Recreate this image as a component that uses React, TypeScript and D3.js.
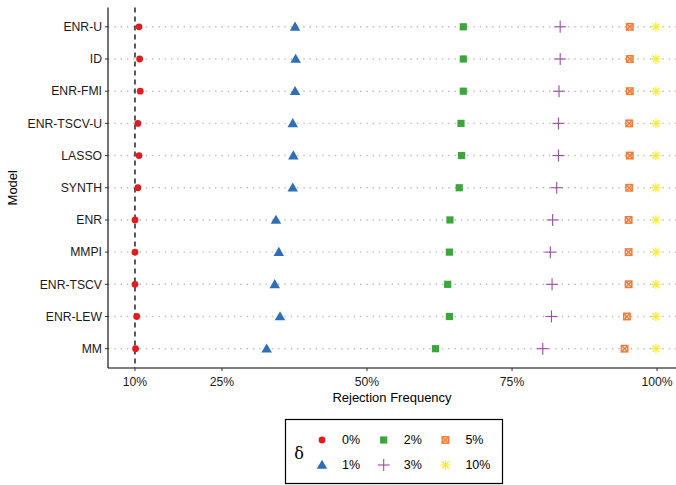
import React from "react";
import * as d3 from "d3";

// rejection frequency (%) per model, one array per delta level
const models = ["ENR-U", "ID", "ENR-FMI", "ENR-TSCV-U", "LASSO", "SYNTH", "ENR", "MMPI", "ENR-TSCV", "ENR-LEW", "MM"];
const deltas = ["0%", "1%", "2%", "3%", "5%", "10%"];
const d0 = [10.7, 10.8, 10.9, 10.5, 10.7, 10.5, 10.0, 10.0, 10.0, 10.3, 10.1];
const d1 = [37.6, 37.7, 37.6, 37.2, 37.3, 37.2, 34.3, 34.8, 34.1, 35.0, 32.7];
const d2 = [66.6, 66.6, 66.6, 66.2, 66.3, 65.9, 64.3, 64.2, 63.9, 64.2, 61.8];
const d3v = [83.3, 83.3, 83.1, 83.0, 83.0, 82.7, 82.0, 81.6, 81.9, 81.8, 80.3];
const d5 = [95.3, 95.3, 95.3, 95.2, 95.3, 95.2, 95.1, 95.1, 95.1, 94.8, 94.4];
const d10 = [99.8, 99.8, 99.8, 99.8, 99.8, 99.8, 99.8, 99.8, 99.8, 99.8, 99.8];
const series = [d0, d1, d2, d3v, d5, d10];
const xTicks = [10, 25, 50, 75, 100];
const colors = ["#E41A1C", "#2F6FB6", "#3DA53D", "#984EA3", "#F57A35", "#F7EB2E"];

const font = "Liberation Sans, Arial, Helvetica, sans-serif";

function Marker({ k, x, y }: { k: number; x: number; y: number }) {
  const c = colors[k];
  if (k === 0) return <circle cx={x} cy={y} r={3.4} fill={c} />;
  if (k === 1) {
    const p = d3.symbol(d3.symbolTriangle, 48)();
    return <path d={p || ""} transform={`translate(${x},${y + 0.8})`} fill={c} />;
  }
  if (k === 2) return <rect x={x - 3.6} y={y - 3.6} width={7.2} height={7.2} fill={c} />;
  if (k === 3)
    return (
      <g stroke={c} strokeWidth={1.1}>
        <line x1={x - 6} x2={x + 6} y1={y} y2={y} />
        <line x1={x} x2={x} y1={y - 6} y2={y + 6} />
      </g>
    );
  if (k === 4)
    return (
      <g stroke={c} strokeWidth={1.5} fill="none">
        <rect x={x - 3.2} y={y - 3.2} width={6.4} height={6.4} />
        <line x1={x - 3.2} x2={x + 3.2} y1={y - 3.2} y2={y + 3.2} />
        <line x1={x - 3.2} x2={x + 3.2} y1={y + 3.2} y2={y - 3.2} />
      </g>
    );
  const r = 4.8;
  return (
    <g stroke={c} strokeWidth={1.2}>
      <line x1={x - r} x2={x + r} y1={y} y2={y} />
      <line x1={x} x2={x} y1={y - r} y2={y + r} />
      <line x1={x - r * 0.72} x2={x + r * 0.72} y1={y - r * 0.72} y2={y + r * 0.72} />
      <line x1={x - r * 0.72} x2={x + r * 0.72} y1={y + r * 0.72} y2={y - r * 0.72} />
    </g>
  );
}

export default function App() {
  const W = 676, H = 485;
  const left = 108, right = 682, top = 7.5, bottom = 368;
  const x = d3.scaleLinear().domain([5.35, 104.3]).range([left, right]);
  const y = d3.scalePoint().domain(models).range([top, bottom]).padding(0.6);

  const legendItems = deltas.map((d, i) => ({
    label: d,
    k: i,
    col: Math.floor(i / 2),
    row: i % 2,
  }));

  return (
    <svg width={W} height={H} style={{ position: "absolute", left: 0, top: 0, fontFamily: font }}>
      <rect width={W} height={H} fill="#fff" />
      {/* dotted row guides */}
      {models.map((m) => (
        <line key={m} x1={left} x2={W} y1={y(m)} y2={y(m)} stroke="#bdbdbd" strokeWidth={1.4} strokeDasharray="1.4,4.9" />
      ))}
      {/* 10% reference */}
      <line x1={x(10)} x2={x(10)} y1={top} y2={bottom} stroke="#000" strokeWidth={1.3} strokeDasharray="5,4" />
      {series.map((s, k) =>
        s.map((v, i) => <Marker key={`${k}-${i}`} k={k} x={x(v)} y={y(models[i])!} />)
      )}
      {/* axes */}
      <line x1={left} x2={left} y1={top} y2={bottom} stroke="#000" strokeWidth={1.1} />
      <line x1={left} x2={W} y1={bottom} y2={bottom} stroke="#000" strokeWidth={1.1} />
      {models.map((m) => (
        <g key={m}>
          <line x1={left - 3} x2={left} y1={y(m)} y2={y(m)} stroke="#333" strokeWidth={1} />
          <text x={left - 6} y={y(m)} dy="0.35em" textAnchor="end" fontSize={12.2} fill="#1a1a1a">
            {m}
          </text>
        </g>
      ))}
      {xTicks.map((t) => (
        <g key={t}>
          <line x1={x(t)} x2={x(t)} y1={bottom} y2={bottom + 3} stroke="#333" strokeWidth={1} />
          <text x={x(t)} y={bottom + 14} dy="0.35em" textAnchor="middle" fontSize={12.2} fill="#1a1a1a">
            {t}%
          </text>
        </g>
      ))}
      <text x={(left + W) / 2} y={397} dy="0.35em" textAnchor="middle" fontSize={13}>
        Rejection Frequency
      </text>
      <text transform={`translate(12,${(top + bottom) / 2}) rotate(-90)`} dy="0.35em" textAnchor="middle" fontSize={13}>
        Model
      </text>
      {/* legend */}
      <rect x={285.5} y={419.5} width={217} height={64} fill="#fff" stroke="#000" strokeWidth={1.2} />
      <text x={299} y={453} dy="0.35em" textAnchor="middle" fontSize={16} fontFamily="DejaVu Serif, serif">
        δ
      </text>
      {legendItems.map((it) => {
        const cx = 322 + it.col * 61.7;
        const cy = 440 + it.row * 25;
        return (
          <g key={it.label}>
            <Marker k={it.k} x={cx} y={cy} />
            <text x={cx + 20} y={cy} dy="0.35em" fontSize={12.5}>
              {it.label}
            </text>
          </g>
        );
      })}
    </svg>
  );
}
